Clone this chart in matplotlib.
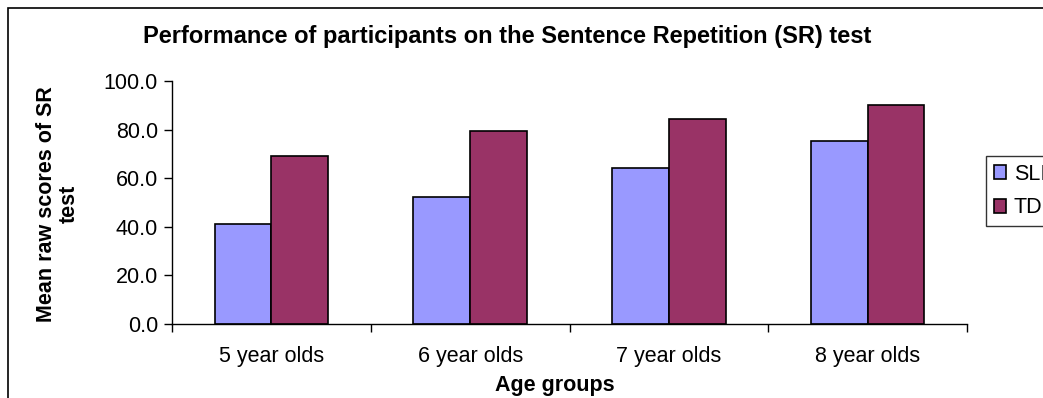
import matplotlib.pyplot as plt
import matplotlib.patches as mpatches
import numpy as np

plt.rcParams['font.family'] = ['Liberation Sans', 'DejaVu Sans']

# mean raw SR scores per age group
groups = ['5 year olds', '6 year olds', '7 year olds', '8 year olds']
sli = [41.0, 52.3, 64.3, 75.2]
td = [69.3, 79.3, 84.2, 90.0]
series = ['SLI', 'TD']
colors = ['#9999ff', '#993366']

fs = 15.5

fig = plt.figure(figsize=(10.43, 3.98), dpi=100)
ax = fig.add_axes([172 / 1043, 1 - 324 / 398, 795 / 1043, 243 / 398])

x = np.arange(len(groups))
w = 0.2857
ax.bar(x - w / 2, sli, w, color=colors[0], edgecolor='black', linewidth=1.2, label=series[0])
ax.bar(x + w / 2, td, w, color=colors[1], edgecolor='black', linewidth=1.2, label=series[1])

ax.set_xlim(-0.5, len(groups) - 0.5)
ax.set_ylim(0, 100)
ax.set_yticks(np.arange(0, 101, 20))
ax.set_yticklabels([f'{v:.1f}' for v in np.arange(0, 101, 20)], fontsize=fs)
ax.set_xticks(x)
ax.set_xticklabels(groups, fontsize=fs)
ax.set_xticks(np.arange(-0.5, len(groups)), minor=True)
ax.tick_params(axis='x', which='major', length=0, pad=16)
ax.tick_params(axis='x', which='minor', length=6, width=1, direction='out')
ax.tick_params(axis='y', length=6, width=1, direction='out', pad=4)
for s in ['top', 'right']:
    ax.spines[s].set_visible(False)
for s in ['left', 'bottom']:
    ax.spines[s].set_linewidth(1)

fig.text(507 / 1043, 1 - 37 / 398, 'Performance of participants on the Sentence Repetition (SR) test',
         ha='center', va='center', fontsize=17, fontweight='bold')
fig.text(555 / 1043, 1 - 386 / 398, 'Age groups', ha='center', va='center',
         fontsize=fs, fontweight='bold')
fig.text(58 / 1043, 1 - 204 / 398, 'Mean raw scores of SR\ntest', ha='center', va='center',
         rotation=90, fontsize=fs, fontweight='bold', linespacing=1.1)

# chart area border
fig.patches.append(mpatches.Rectangle((8 / 1043, -0.1), 1.2, 1 - 8 / 398 + 0.1,
                                      transform=fig.transFigure, fill=False,
                                      edgecolor='black', linewidth=1.2))

leg = fig.legend(loc='upper left', bbox_to_anchor=(986 / 1043, 1 - 156 / 398),
                 fontsize=fs, frameon=True, fancybox=False, edgecolor='black',
                 handlelength=0.6, handleheight=0.6, handletextpad=0.35,
                 borderpad=0.35, labelspacing=0.6, borderaxespad=0)
leg.get_frame().set_linewidth(1)

fig.savefig('out.png', dpi=100)
